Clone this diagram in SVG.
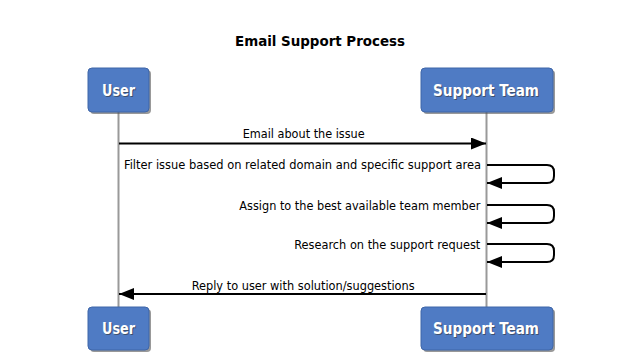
<svg xmlns="http://www.w3.org/2000/svg" width="634" height="362" viewBox="0 0 634 362">
<style>
.box{fill:#4f7bc4;stroke:#3f66a8;stroke-width:1}
.shadow{fill:#555;opacity:0.6}
.bt{font-family:"DejaVu Sans Condensed","DejaVu Sans",sans-serif;font-size:16px;font-weight:bold;fill:#fff;text-anchor:middle}
.bts{font-family:"DejaVu Sans Condensed","DejaVu Sans",sans-serif;font-size:16px;font-weight:bold;fill:#333;text-anchor:middle;opacity:0.6}
.life{stroke:#999;stroke-width:2;fill:none}
.msg{stroke:#000;stroke-width:2;fill:none}
.lbl{font-family:"DejaVu Sans Condensed","DejaVu Sans",sans-serif;font-size:12px;fill:#000}
.title{font-family:"DejaVu Sans Condensed","DejaVu Sans",sans-serif;font-size:14px;font-weight:bold;fill:#000;text-anchor:middle}
</style>
<defs>
<marker id="ah" viewBox="0 0 15 12" refX="15" refY="6" markerWidth="15" markerHeight="12" markerUnits="userSpaceOnUse" orient="auto">
<path d="M0,0 L15,6 L0,12 Z" fill="#000"/>
</marker>
</defs>
<rect width="634" height="362" fill="#fff"/>
<text class="title" x="320" y="46" textLength="170" lengthAdjust="spacingAndGlyphs">Email Support Process</text>
<g id="lifelines">
<line class="life" x1="118.5" y1="112" x2="118.5" y2="307"/>
<line class="life" x1="486.5" y1="112" x2="486.5" y2="307"/>
</g>
<g id="user-top">
<rect class="shadow" x="90" y="70" width="61" height="44" rx="4"/>
<rect class="box" x="88" y="68" width="61" height="44" rx="4"/>
<text class="bts" x="119.5" y="97" textLength="33" lengthAdjust="spacingAndGlyphs">User</text>
<text class="bt" x="118.5" y="96" textLength="33" lengthAdjust="spacingAndGlyphs">User</text>
</g>
<g id="support-top">
<rect class="shadow" x="423" y="70" width="132" height="44" rx="4"/>
<rect class="box" x="421" y="68" width="132" height="44" rx="4"/>
<text class="bts" x="487" y="97" textLength="106" lengthAdjust="spacingAndGlyphs">Support Team</text>
<text class="bt" x="486" y="96" textLength="106" lengthAdjust="spacingAndGlyphs">Support Team</text>
</g>
<g id="user-bottom">
<rect class="shadow" x="90" y="309" width="61" height="43" rx="4"/>
<rect class="box" x="88" y="307" width="61" height="43" rx="4"/>
<text class="bts" x="119.5" y="335" textLength="33" lengthAdjust="spacingAndGlyphs">User</text>
<text class="bt" x="118.5" y="334" textLength="33" lengthAdjust="spacingAndGlyphs">User</text>
</g>
<g id="support-bottom">
<rect class="shadow" x="423" y="309" width="132" height="43" rx="4"/>
<rect class="box" x="421" y="307" width="132" height="43" rx="4"/>
<text class="bts" x="487" y="335" textLength="106" lengthAdjust="spacingAndGlyphs">Support Team</text>
<text class="bt" x="486" y="334" textLength="106" lengthAdjust="spacingAndGlyphs">Support Team</text>
</g>
<g id="connectors">
<line class="msg" x1="119" y1="143.5" x2="486" y2="143.5" marker-end="url(#ah)"/>
<path class="msg" d="M487,165 L547,165 Q554,165 554,172 L554,176 Q554,183 547,183 L487,183" marker-end="url(#ah)"/>
<path class="msg" d="M487,205 L547,205 Q554,205 554,212 L554,216 Q554,223 547,223 L487,223" marker-end="url(#ah)"/>
<path class="msg" d="M487,244 L547,244 Q554,244 554,251 L554,255 Q554,262 547,262 L487,262" marker-end="url(#ah)"/>
<line class="msg" x1="486" y1="294" x2="119" y2="294" marker-end="url(#ah)"/>
</g>
<g id="labels">
<text class="lbl" x="242.7" y="138" textLength="122" lengthAdjust="spacingAndGlyphs">Email about the issue</text>
<text class="lbl" x="124" y="169" textLength="357" lengthAdjust="spacingAndGlyphs">Filter issue based on related domain and specific support area</text>
<text class="lbl" x="239.3" y="210" textLength="241" lengthAdjust="spacingAndGlyphs">Assign to the best available team member</text>
<text class="lbl" x="294.3" y="249" textLength="186" lengthAdjust="spacingAndGlyphs">Research on the support request</text>
<text class="lbl" x="191.7" y="290" textLength="223" lengthAdjust="spacingAndGlyphs">Reply to user with solution/suggestions</text>
</g>
</svg>
